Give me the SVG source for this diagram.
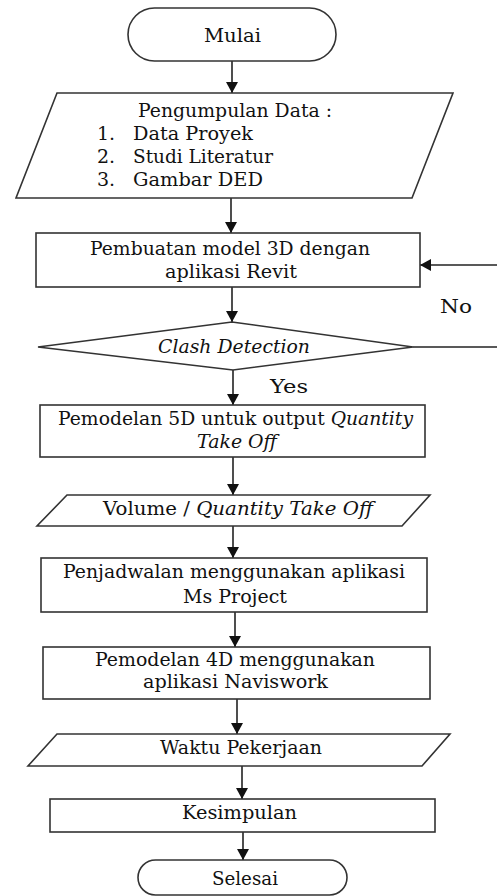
<svg xmlns="http://www.w3.org/2000/svg" width="497" height="896" viewBox="0 0 497 896">
<style>
.s{fill:#fff;stroke:#333;stroke-width:1.6}
.t{font-family:'DejaVu Serif','Liberation Serif',serif;font-size:19px;fill:#111}
.i{font-style:italic}
.c{fill:none;stroke:#222;stroke-width:1.6}
</style>
<defs>
<marker id="ah" markerUnits="userSpaceOnUse" markerWidth="12" markerHeight="12" refX="11" refY="6" orient="auto">
<path d="M0,0 L11,6 L0,12 z" fill="#111"/>
</marker>
</defs>
<rect width="497" height="896" fill="#fff"/>
<g id="connectors">
<line class="c" x1="232" y1="61" x2="232" y2="93" marker-end="url(#ah)"/>
<line class="c" x1="231" y1="198" x2="231" y2="233" marker-end="url(#ah)"/>
<line class="c" x1="232" y1="287" x2="232" y2="322" marker-end="url(#ah)"/>
<line class="c" x1="233" y1="370" x2="233" y2="405" marker-end="url(#ah)"/>
<line class="c" x1="233" y1="457" x2="233" y2="495" marker-end="url(#ah)"/>
<line class="c" x1="233" y1="526" x2="233" y2="558" marker-end="url(#ah)"/>
<line class="c" x1="235" y1="612" x2="235" y2="647" marker-end="url(#ah)"/>
<line class="c" x1="237" y1="699" x2="237" y2="734" marker-end="url(#ah)"/>
<line class="c" x1="242" y1="766" x2="242" y2="799" marker-end="url(#ah)"/>
<line class="c" x1="243" y1="832" x2="243" y2="860" marker-end="url(#ah)"/>
<line class="c" x1="413" y1="347" x2="497" y2="347"/>
<line class="c" x1="497" y1="265" x2="420" y2="265" marker-end="url(#ah)"/>
<text class="t" x="440" y="313" textLength="32" lengthAdjust="spacingAndGlyphs">No</text>
<text class="t" x="270" y="393" textLength="38" lengthAdjust="spacingAndGlyphs">Yes</text>
</g>
<g id="mulai">
<rect class="s" x="128" y="8" width="208" height="53" rx="26.5"/>
<text class="t" x="204" y="42" textLength="57" lengthAdjust="spacingAndGlyphs">Mulai</text>
</g>
<g id="data">
<polygon class="s" points="57,93 453,93 412,198 16,198"/>
<text class="t" x="138" y="117" textLength="194" lengthAdjust="spacingAndGlyphs">Pengumpulan Data :</text>
<text class="t" x="97" y="140">1.</text>
<text class="t" x="133" y="140" textLength="120" lengthAdjust="spacingAndGlyphs">Data Proyek</text>
<text class="t" x="97" y="163">2.</text>
<text class="t" x="133" y="163" textLength="140" lengthAdjust="spacingAndGlyphs">Studi Literatur</text>
<text class="t" x="97" y="186">3.</text>
<text class="t" x="133" y="186" textLength="130" lengthAdjust="spacingAndGlyphs">Gambar DED</text>
</g>
<g id="revit">
<rect class="s" x="36" y="233" width="384" height="54"/>
<text class="t" x="90" y="255" textLength="280" lengthAdjust="spacingAndGlyphs">Pembuatan model 3D dengan</text>
<text class="t" x="165" y="278" textLength="132" lengthAdjust="spacingAndGlyphs">aplikasi Revit</text>
</g>
<g id="clash">
<polygon class="s" points="38,347 232,322 413,347 233,370"/>
<text class="t i" x="158" y="353" textLength="152" lengthAdjust="spacingAndGlyphs">Clash Detection</text>
</g>
<g id="model5d">
<rect class="s" x="40" y="405" width="385" height="52"/>
<text class="t" x="58" y="425" textLength="355" lengthAdjust="spacingAndGlyphs">Pemodelan 5D untuk output <tspan class="i">Quantity</tspan></text>
<text class="t i" x="197" y="448" textLength="80" lengthAdjust="spacingAndGlyphs">Take Off</text>
</g>
<g id="volume">
<polygon class="s" points="67,495 430,495 402,526 37,526"/>
<text class="t" x="103" y="515" textLength="270" lengthAdjust="spacingAndGlyphs">Volume / <tspan class="i">Quantity Take Off</tspan></text>
</g>
<g id="jadwal">
<rect class="s" x="41" y="558" width="386" height="54"/>
<text class="t" x="63" y="578" textLength="342" lengthAdjust="spacingAndGlyphs">Penjadwalan menggunakan aplikasi</text>
<text class="t" x="183" y="603" textLength="104" lengthAdjust="spacingAndGlyphs">Ms Project</text>
</g>
<g id="model4d">
<rect class="s" x="43" y="647" width="387" height="52"/>
<text class="t" x="95" y="666" textLength="280" lengthAdjust="spacingAndGlyphs">Pemodelan 4D menggunakan</text>
<text class="t" x="143" y="688" textLength="185" lengthAdjust="spacingAndGlyphs">aplikasi Naviswork</text>
</g>
<g id="waktu">
<polygon class="s" points="57,734 450,734 422,766 28,766"/>
<text class="t" x="160" y="754" textLength="162" lengthAdjust="spacingAndGlyphs">Waktu Pekerjaan</text>
</g>
<g id="kesimpulan">
<rect class="s" x="50" y="799" width="385" height="33"/>
<text class="t" x="182" y="819" textLength="115" lengthAdjust="spacingAndGlyphs">Kesimpulan</text>
</g>
<g id="selesai">
<rect class="s" x="138" y="860" width="209" height="35" rx="17.5"/>
<text class="t" x="212" y="885" textLength="66" lengthAdjust="spacingAndGlyphs">Selesai</text>
</g>
</svg>
